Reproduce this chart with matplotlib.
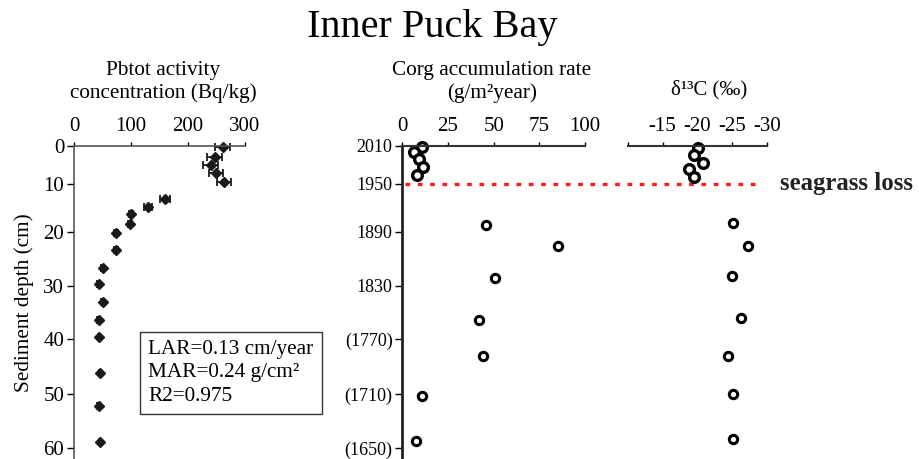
import numpy as np
import matplotlib.pyplot as plt
from matplotlib.transforms import blended_transform_factory

plt.rcParams['font.family'] = ['Liberation Serif', 'DejaVu Serif']

# Pbtot profile: depth (cm), activity (Bq/kg), error
pb_depth = [0.4, 3.0, 5.0, 7.2, 9.4, 13.1, 14.9, 16.4, 18.4, 20.2, 23.4,
            26.7, 29.7, 33.1, 36.4, 39.6, 46.1, 52.3, 58.8]
pb_activity = [261, 247, 240, 249, 263, 160, 129, 100, 98, 74, 74,
               50, 43, 50, 43, 44, 46, 43, 46]
pb_err = [13, 13, 13, 12, 13, 9, 7, 4, 4, 3, 3, 2, 2, 2, 2, 2, 2, 2, 2]

# Corg accumulation rate (g/m2 year)
corg_depth = [0.3, 1.65, 3.55, 5.5, 7.7, 18.7, 22.6, 28.5, 36.5, 43.0, 50.3, 58.6]
corg_rate = [10.6, 6.4, 9.0, 11.5, 7.9, 45.6, 85.4, 50.6, 42.0, 44.2, 10.8, 7.5]

# d13C (permil)
d13c_depth = [0.7, 2.5, 4.4, 6.2, 8.1, 18.1, 22.6, 28.3, 36.0, 43.0, 50.1, 58.4]
d13c = [-20.0, -19.5, -20.8, -18.8, -19.5, -25.1, -27.2, -24.9, -26.3, -24.3, -25.1, -25.1]

depth_ticks = [0, 10, 20, 30, 40, 50, 60]
year_labels = ['2010', '1950', '1890', '1830', '(1770)', '(1710)', '(1650)']
seagrass_loss_depth = 10
stats_text = 'LAR=0.13 cm/year\nMAR=0.24 g/cm²\nR2=0.975'

# the depth axis in the source figure is drawn unevenly: tick spacing in px
_knot_d = [0, 10, 20, 30, 40, 50, 60, 70]
_knot_p = [0, 38.3, 86, 140, 193.6, 248.3, 302.6, 356.9]


def fwd(d):
    return np.interp(d, _knot_d, _knot_p)


def inv(p):
    return np.interp(p, _knot_p, _knot_d)


W, H = 919, 459


def rect(x0, x1, ytop, ybot):
    return [x0 / W, 1 - ybot / H, (x1 - x0) / W, (ybot - ytop) / H]


def setup_depth(ax, ysize):
    ax.set_yscale('function', functions=(fwd, inv))
    ax.set_ylim(62.0, 0)
    ax.xaxis.tick_top()
    ax.tick_params(axis='x', direction='out', length=3, width=1, pad=4, labelsize=15)
    ax.tick_params(axis='y', direction='out', length=5, width=1, pad=2, labelsize=ysize)
    for s in ['right', 'bottom']:
        ax.spines[s].set_visible(False)
    ax.set_facecolor('none')


fig = plt.figure(figsize=(W / 100, H / 100), dpi=100)

# --- Pbtot panel
ax1 = fig.add_axes(rect(74, 245, 145.7, 459))
setup_depth(ax1, 15)
ax1.set_xlim(0, 300)
ax1.set_xticks([0, 100, 200, 300])
ax1.set_yticks(depth_ticks)
for s in ['top', 'left']:
    ax1.spines[s].set_color('#555555')
    ax1.spines[s].set_linewidth(1.2)
ax1.errorbar(pb_activity, pb_depth, xerr=pb_err, fmt='D', color='#1a1a1a',
             ms=5.5, capsize=3, elinewidth=1.3, capthick=1.3, clip_on=False)
ax1.set_ylabel('Sediment depth (cm)', fontsize=15.3, labelpad=7)
ax1.text(0.433, 0.2745, stats_text, transform=ax1.transAxes, fontsize=15.3,
         va='center', ha='left', linespacing=1.3,
         bbox=dict(boxstyle='square,pad=0.4', fc='white', ec='#333333', lw=1))

# --- Corg panel
ax2 = fig.add_axes(rect(402.3, 585, 145.7, 459))
setup_depth(ax2, 13)
ax2.set_xlim(0, 100)
ax2.set_xticks([0, 25, 50, 75, 100])
ax2.set_yticks(depth_ticks)
ax2.set_yticklabels(year_labels)
ax2.spines['left'].set_linewidth(2)
ax2.spines['left'].set_color('#222222')
ax2.spines['top'].set_linewidth(1.5)
ax2.spines['top'].set_color('#333333')
ax2.plot(corg_rate[:5], corg_depth[:5], 'o', ms=7, mfc='white', mec='black',
         mew=2.4, clip_on=False)
ax2.plot(corg_rate[5:], corg_depth[5:], 'o', ms=6, mfc='white', mec='black',
         mew=2.2, clip_on=False)

# --- d13C panel
ax3 = fig.add_axes(rect(627.7, 767.3, 145.7, 459))
setup_depth(ax3, 13)
ax3.set_xlim(-10, -30)
ax3.set_xticks([-10, -15, -20, -25, -30])
ax3.set_xticklabels(['', '-15', '-20', '-25', '-30'])
ax3.spines['left'].set_visible(False)
ax3.spines['top'].set_linewidth(1.5)
ax3.spines['top'].set_color('#333333')
ax3.tick_params(axis='y', left=False, labelleft=False)
ax3.plot(d13c[:5], d13c_depth[:5], 'o', ms=7, mfc='white', mec='black',
         mew=2.4, clip_on=False)
ax3.plot(d13c[5:], d13c_depth[5:], 'o', ms=6, mfc='white', mec='black',
         mew=2.2, clip_on=False)

# seagrass loss marker line across the two right panels
ax2.axhline(seagrass_loss_depth, xmin=0.015, xmax=1.969, color='#ff1a1a',
            lw=2.4, ls=(0, (1.4, 2.3)), clip_on=False, zorder=1)
ax2.text(2.07, seagrass_loss_depth, 'seagrass loss', fontsize=17.8, fontweight='bold',
         va='center', ha='left', color='#222222',
         transform=blended_transform_factory(ax2.transAxes, ax2.transData))

# titles
fig.text(432.5 / W, 1 - 28 / H, 'Inner Puck Bay', fontsize=29, ha='center', va='center')
fig.text(163.5 / W, 1 - 82 / H, 'Pbtot activity\nconcentration (Bq/kg)', fontsize=15.3,
         ha='center', va='center', linespacing=1.22)
fig.text(492 / W, 1 - 82 / H, 'Corg accumulation rate\n(g/m²year)', fontsize=15.3,
         ha='center', va='center', linespacing=1.22)
fig.text(709 / W, 1 - 90 / H, 'δ¹³C (‰)', fontsize=15, ha='center', va='center')

fig.savefig('out.png', dpi=100)
